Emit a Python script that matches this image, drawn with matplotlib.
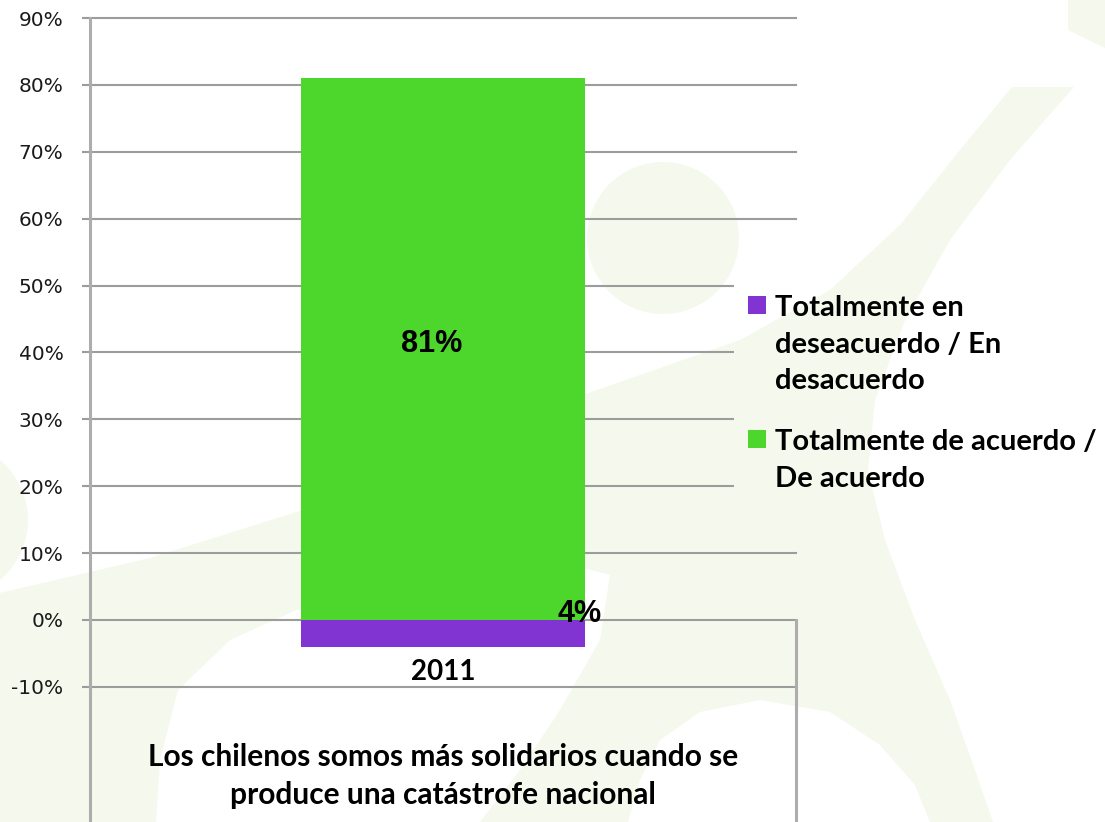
import matplotlib.pyplot as plt
from matplotlib.patches import Polygon, Circle, Rectangle

# data
years = ["2011"]
acuerdo = [81]
desacuerdo = [4]
series_names = [
    "Totalmente en\ndeseacuerdo / En\ndesacuerdo",
    "Totalmente de acuerdo /\nDe acuerdo",
]
y_ticks = list(range(-10, 91, 10))
question = "Los chilenos somos más solidarios cuando se\nproduce una catástrofe nacional"

GREEN = "#4dd62b"
PURPLE = "#8234d2"
PALE = "#f5f8ec"
GRID = "#9c9c9c"
AXIS = "#adadad"

W, H = 1105, 822
BOLD = dict(family=["Lato", "DejaVu Sans"], fontweight="bold", color="black")

# faint decorative shapes of the slide background (pixel coords, y down)
band_pts = [
    (1012, 87), (960, 150), (900, 225), (830, 290), (740, 340), (640, 375),
    (540, 410), (420, 460), (303, 510), (150, 558), (0, 593),
    (0, 822), (156, 822),
    (160, 760), (178, 690), (230, 640), (312, 603), (446, 572), (560, 562),
    (610, 575), (600, 640), (560, 710), (520, 770), (480, 822),
    (628, 822), (640, 780), (660, 740), (700, 712), (760, 700), (830, 712),
    (880, 745), (915, 785), (930, 822),
    (993, 822), (975, 770), (950, 700), (915, 620), (885, 540), (868, 470),
    (875, 400), (905, 320), (950, 240), (1010, 160), (1074, 87),
]


def draw_shapes(a, clip=None):
    shapes = [
        Circle((663, 238), 76),
        Circle((-50, 520), 78),
        Polygon([(1068, 0), (1105, 0), (1105, 48), (1068, 30)]),
        Polygon(band_pts),
    ]
    for s in shapes:
        s.set_facecolor(PALE)
        s.set_edgecolor("none")
        a.add_patch(s)
        if clip is not None:
            s.set_clip_path(clip)


fig = plt.figure(figsize=(W / 100, H / 100), dpi=100)

bg = fig.add_axes([0, 0, 1, 1], zorder=0)
bg.set_xlim(0, W)
bg.set_ylim(H, 0)
bg.axis("off")
draw_shapes(bg)

# main chart
ax = fig.add_axes([90 / W, 0, 706 / W, (H - 18) / H], zorder=1)
ax.patch.set_visible(False)
ax.set_ylim(-30.2, 90)
ax.set_xlim(-0.5, 0.5)

x = list(range(len(years)))
bar_w = 0.402
ax.bar(x, acuerdo, width=bar_w, color=GREEN, zorder=2)
ax.bar(x, [-v for v in desacuerdo], width=bar_w, color=PURPLE, zorder=2)

ax.set_yticks(y_ticks)
ax.set_yticklabels([f"{v}%" for v in y_ticks], family="DejaVu Sans", color="#1a1a1a")
ax.yaxis.grid(True, color=GRID, lw=1.5)
for gl in ax.get_ygridlines():
    gl.set_clip_on(False)
ax.set_axisbelow(True)
ax.tick_params(axis="y", direction="out", length=6, width=1.5, color=GRID,
               labelsize=14.5, pad=13)
ax.set_xticks([])
for side in ["top", "bottom", "right"]:
    ax.spines[side].set_visible(False)
ax.spines["left"].set_color(AXIS)
ax.spines["left"].set_linewidth(2.2)
# category divider on the right, from the 0% line down
ax.plot([1, 1], [ax.get_ylim()[0], 0], transform=ax.get_yaxis_transform(),
        color=AXIS, lw=2.2, clip_on=False)

for i, (a, d, yr) in enumerate(zip(acuerdo, desacuerdo, years)):
    ax.annotate(f"{a}%", xy=(i, a / 2), xytext=(-8, 4), textcoords="offset points",
                ha="center", va="center", fontsize=22,
                family="Liberation Sans", fontweight="bold")
    ax.annotate(f"{d}%", xy=(i + bar_w / 2, 0), xytext=(-3.6, 4.3),
                textcoords="offset points", ha="center", va="center",
                fontsize=22, family="Liberation Sans", fontweight="bold")
    ax.annotate(yr, xy=(i, 0), xytext=(0, -37.5), textcoords="offset points",
                ha="center", va="center", fontsize=20, **BOLD)

fig.text(443 / W, 1 - 776 / H, question, ha="center", va="center",
         fontsize=21.5, linespacing=1.43, **BOLD)

# legend, drawn on an overlay that hides the gridlines behind it
ov = fig.add_axes([0, 0, 1, 1], zorder=2)
ov.set_xlim(0, W)
ov.set_ylim(H, 0)
ov.axis("off")
cover = Rectangle((734, 255), 70, 255, facecolor="white", edgecolor="none")
ov.add_patch(cover)
draw_shapes(ov, clip=cover)

legend_colors = [PURPLE, GREEN]
legend_tops = [296, 430]
for name, col, top in zip(series_names, legend_colors, legend_tops):
    ov.add_patch(Rectangle((748, top), 18, 18, facecolor=col, edgecolor="none"))
    ov.text(775, top - 1, name, ha="left", va="top", fontsize=21,
            linespacing=1.5, **BOLD)

fig.savefig("out.png", dpi=100)
